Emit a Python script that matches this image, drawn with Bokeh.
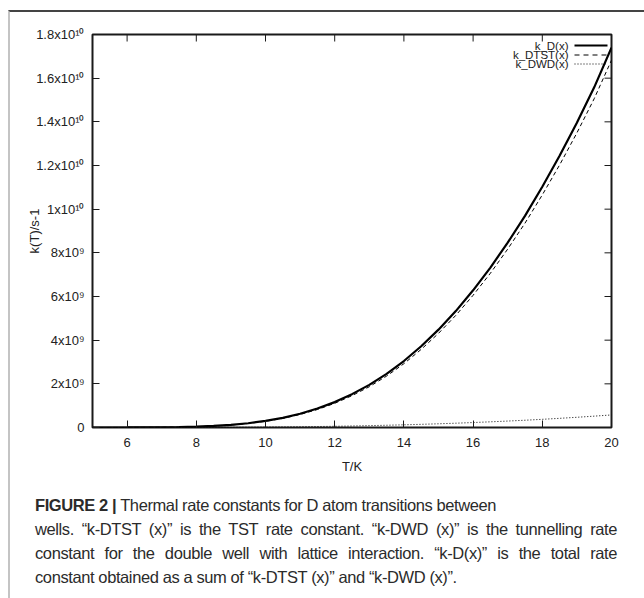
from bokeh.plotting import figure
from bokeh.models import Range1d, FixedTicker, Div
from bokeh.layouts import column
from bokeh.embed import file_html
from bokeh.resources import INLINE
from bokeh.core.properties import value

# ---------------- data ----------------
T = [5.0, 5.5, 6.0, 6.5, 7.0, 7.5, 8.0, 8.5, 9.0, 9.5, 10.0, 10.5, 11.0, 11.5,
     12.0, 12.5, 13.0, 13.5, 14.0, 14.5, 15.0, 15.5, 16.0, 16.5, 17.0, 17.5,
     18.0, 18.5, 19.0, 19.5, 20.0]
k_D = [9.1e4, 3.95e5, 1.36e6, 3.85e6, 9.4e6, 2.02e7, 3.95e7, 7.3e7, 1.22e8,
       1.96e8, 3.01e8, 4.43e8, 6.29e8, 8.67e8, 1.163e9, 1.528e9, 1.953e9,
       2.458e9, 3.045e9, 3.723e9, 4.482e9, 5.332e9, 6.283e9, 7.325e9, 8.468e9,
       9.692e9, 1.1028e10, 1.2444e10, 1.3961e10, 1.558e10, 1.740e10]
k_DTST = [9.1e4, 3.95e5, 1.26e6, 3.55e6, 8.6e6, 1.86e7, 3.65e7, 6.8e7, 1.14e8,
          1.84e8, 2.83e8, 4.18e8, 5.95e8, 8.23e8, 1.107e9, 1.458e9, 1.867e9,
          2.355e9, 2.922e9, 3.578e9, 4.312e9, 5.135e9, 6.056e9, 7.065e9,
          8.173e9, 9.359e9, 1.0653e10, 1.2024e10, 1.3493e10, 1.506e10, 1.6825e10]
k_DWD = [0.0, 0.0, 1e5, 3e5, 8e5, 1.6e6, 3e6, 5e6, 8e6, 1.2e7, 1.8e7, 2.5e7,
         3.4e7, 4.4e7, 5.6e7, 7.0e7, 8.6e7, 1.03e8, 1.23e8, 1.45e8, 1.70e8,
         1.97e8, 2.27e8, 2.60e8, 2.95e8, 3.33e8, 3.75e8, 4.20e8, 4.68e8,
         5.20e8, 5.75e8]

x_ticks = [6, 8, 10, 12, 14, 16, 18, 20]
y_ticks = [0, 2e9, 4e9, 6e9, 8e9, 1e10, 1.2e10, 1.4e10, 1.6e10, 1.8e10]
y_tick_labels = ["0", "2x10\u2079", "4x10\u2079", "6x10\u2079", "8x10\u2079",
                 "1x10\u00b9\u2070", "1.2x10\u00b9\u2070", "1.4x10\u00b9\u2070",
                 "1.6x10\u00b9\u2070", "1.8x10\u00b9\u2070"]
legend_labels = ["k_D(x)", "k_DTST(x)", "k_DWD(x)"]
x_title = "T/K"
y_title = "k(T)/s-1"
caption_bold = "FIGURE 2 |"
caption_lines = [
    "Thermal rate constants for D atom transitions between",
    "wells. \u201ck-DTST (x)\u201d is the TST rate constant. \u201ck-DWD (x)\u201d is the tunnelling rate",
    "constant for the double well with lattice interaction. \u201ck-D(x)\u201d is the total rate",
    "constant obtained as a sum of \u201ck-DTST (x)\u201d and \u201ck-DWD (x)\u201d.",
]

# ---------------- layout constants (figure pixel coords) ----------------
W, H = 634, 470
L, R, TOP, BOT = 82, 601, 22, 415
XMIN, XMAX, YMIN, YMAX = 5, 20, 0, 1.8e10
INK = "#1a1a1a"
FONT = "Liberation Sans"
TICK = 7


def dx(px):
    return XMIN + (px - L) / (R - L) * (XMAX - XMIN)


def dy(py):
    return YMIN + (BOT - py) / (BOT - TOP) * (YMAX - YMIN)


p = figure(width=W, height=H, x_range=Range1d(XMIN, XMAX), y_range=Range1d(YMIN, YMAX),
           output_backend="svg", toolbar_location=None,
           min_border_left=L, min_border_right=W - R, min_border_top=TOP,
           min_border_bottom=H - BOT, x_axis_label=x_title, y_axis_label=y_title)
p.grid.visible = False
p.outline_line_color = INK
p.outline_line_width = 2
p.background_fill_color = "white"
p.border_fill_color = "white"

p.xaxis[0].ticker = FixedTicker(ticks=x_ticks)
p.yaxis[0].ticker = FixedTicker(ticks=y_ticks)

for ax in [p.xaxis[0], p.yaxis[0]]:
    ax.axis_line_color = None
    ax.major_tick_in = TICK
    ax.major_tick_out = 0
    ax.minor_tick_in = 0
    ax.minor_tick_out = 0
    ax.major_tick_line_color = INK
    ax.major_tick_line_width = 1
    ax.major_label_text_font = FONT
    ax.major_label_text_font_size = "13px"
    ax.major_label_text_color = "#222222"
    ax.axis_label_text_font = FONT
    ax.axis_label_text_font_size = "13px"
    ax.axis_label_text_font_style = "normal"
    ax.axis_label_text_color = "#222222"

p.yaxis[0].major_label_overrides = {t: lab for t, lab in zip(y_ticks, y_tick_labels)}
p.yaxis[0].major_label_standoff = 8
p.yaxis[0].axis_label_standoff = -9
p.xaxis[0].major_label_standoff = 10
p.xaxis[0].axis_label_standoff = 9

# mirrored inward ticks on top and right edges (gnuplot style)
p.segment(x0=x_ticks, y0=[YMAX] * len(x_ticks), x1=x_ticks, y1=[dy(TOP + TICK)] * len(x_ticks),
          line_color=INK, line_width=1)
p.segment(x0=[XMAX] * len(y_ticks), y0=y_ticks, x1=[dx(R - TICK)] * len(y_ticks), y1=y_ticks,
          line_color=INK, line_width=1)

# curves
p.line(T, k_D, line_color="black", line_width=2.2)
p.line(T, k_DTST, line_color="black", line_width=1, line_dash="4 3")
p.line(T, k_DWD, line_color="black", line_width=1, line_dash="1 2")

# legend (gnuplot style: text left, sample right)
rows = [33, 42.5, 51.5]
dashes = ["solid", "5 4", "1 2"]
widths = [2, 1, 1]
p.text(x=[dx(558)] * 3, y=[dy(r) for r in rows], text=legend_labels,
       text_align="right", text_baseline="middle", text_font=value(FONT),
       text_font_size="11.5px", text_color="#222222")
for r, d, w in zip(rows, dashes, widths):
    p.line([dx(564), dx(597)], [dy(r), dy(r)], line_color="black", line_width=w, line_dash=d)

# ---------------- caption (below the plot) ----------------
line_style = "width:582px;height:24px;line-height:24px;white-space:nowrap;"
just_style = "width:582px;height:24px;line-height:24px;text-align:justify;text-align-last:justify;"
cap_html = (
    "<div style=\"padding:6px 0 0 20px;font-family:'Liberation Sans',sans-serif;"
    "font-size:16.5px;letter-spacing:-0.4px;color:#2b2b2b;\">"
    f"<div style=\"{line_style}\"><b>{caption_bold}</b> {caption_lines[0]}</div>"
    f"<div style=\"{just_style}\">{caption_lines[1]}</div>"
    f"<div style=\"{just_style}\">{caption_lines[2]}</div>"
    f"<div style=\"{line_style}\">{caption_lines[3]}</div>"
    "</div>"
)
cap = Div(text=cap_html, width=W, height=116)

layout = column(p, cap, spacing=0,
                styles={"border-top": "2px solid #444444", "border-left": "2px solid #c4c4c4",
                        "margin-top": "10px", "margin-left": "8px"})

open("out.html", "w").write(file_html(layout, INLINE))
